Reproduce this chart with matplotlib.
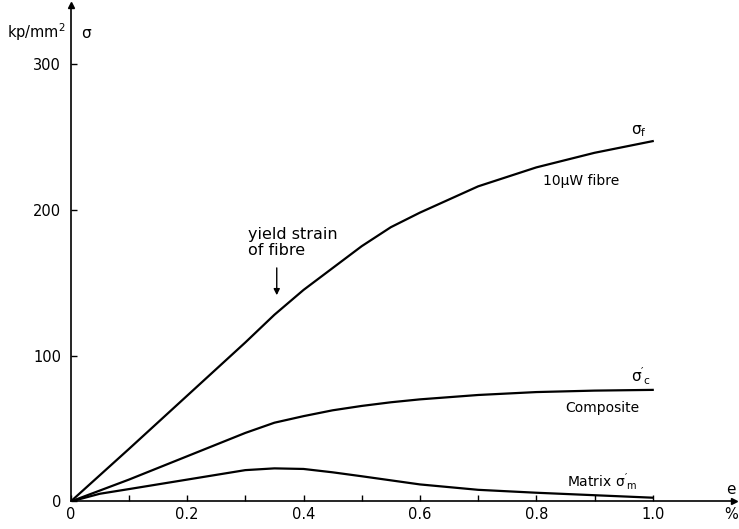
import numpy as np
import matplotlib
matplotlib.use("Agg")
import matplotlib.pyplot as plt

# strain (%) and stress (kp/mm^2)
strain = [0, 0.05, 0.1, 0.2, 0.3, 0.35, 0.4, 0.45, 0.5, 0.55, 0.6, 0.7, 0.8, 0.9, 1.0]
fibre = [0, 18, 36, 72.5, 109, 128, 145, 160, 175, 188, 198, 216, 229, 239, 247]
composite = [0, 7.5, 15, 31, 47, 54, 58.5, 62.5, 65.5, 68, 70, 73, 75, 76, 76.5]
matrix = [0, 5.3, 8.5, 15, 21.5, 22.7, 22.3, 20, 17.3, 14.5, 11.7, 8, 6, 4.3, 2.6]

x_ticks = [0, 0.2, 0.4, 0.6, 0.8, 1.0]
x_labels = ["0", "0.2", "0.4", "0.6", "0.8", "1.0"]
y_ticks = [0, 100, 200, 300]

plt.rcParams['font.family'] = ['DejaVu Sans']
plt.rcParams['mathtext.fontset'] = 'dejavusans'

fig = plt.figure(figsize=(7.39, 5.29), dpi=100)
ax = fig.add_axes([0.0957, 0.052, 0.8978, 0.9377])

# the three curves
ax.plot(strain, fibre, color='black', lw=1.6)
ax.plot(strain, composite, color='black', lw=1.6)
ax.plot(strain, matrix, color='black', lw=1.6)

ax.set_xlim(0, 1.14)
ax.set_ylim(0, 340)

# only left and bottom axis lines, with arrow heads
ax.spines['top'].set_visible(False)
ax.spines['right'].set_visible(False)
ax.spines['left'].set_linewidth(1.2)
ax.spines['bottom'].set_linewidth(1.2)
ax.plot(1, 0, ">k", ms=5, transform=ax.get_yaxis_transform(), clip_on=False)
ax.plot(0, 1, "^k", ms=5, transform=ax.get_xaxis_transform(), clip_on=False)

ax.set_xticks(x_ticks)
ax.set_xticklabels(x_labels)
ax.set_xticks(np.arange(0.1, 1.0, 0.2), minor=True)
ax.set_yticks(y_ticks)
ax.set_yticklabels([str(v) for v in y_ticks])
ax.tick_params(axis='x', which='both', direction='in', length=4, width=1, pad=4, labelsize=10.5)
ax.tick_params(axis='y', direction='in', length=4.5, width=1, pad=7, labelsize=10.5)

# axis annotations
ax.text(-0.008, 318, "kp/mm$^2$", ha='right', va='baseline', fontsize=10.5, clip_on=False)
ax.text(0.018, 318, "σ", ha='left', va='baseline', fontsize=11)
ax.text(1.135, 5, "e", ha='center', va='baseline', fontsize=11, clip_on=False)
ax.text(1.135, -4, "%", ha='center', va='top', fontsize=10.5, clip_on=False)

# curve labels
ax.text(0.962, 252, r"$\mathregular{\sigma_f}$", ha='left', va='baseline', fontsize=11)
ax.text(0.812, 217, "10μW fibre", ha='left', va='baseline', fontsize=10)
ax.text(0.962, 82, r"$\mathregular{\sigma'_c}$", ha='left', va='baseline', fontsize=11)
ax.text(0.849, 61.3, "Composite", ha='left', va='baseline', fontsize=10)
ax.text(0.853, 10, r"Matrix $\mathregular{\sigma'_m}$", ha='left', va='baseline', fontsize=10)

# yield strain marker
ax.text(0.305, 188, "yield strain\nof fibre", ha='left', va='top', fontsize=11.5, linespacing=1.1)
ax.annotate("", xy=(0.354, 139.5), xytext=(0.354, 162),
            arrowprops=dict(arrowstyle='-|>', color='black', lw=1, mutation_scale=9))

fig.savefig("out.png", dpi=100)
